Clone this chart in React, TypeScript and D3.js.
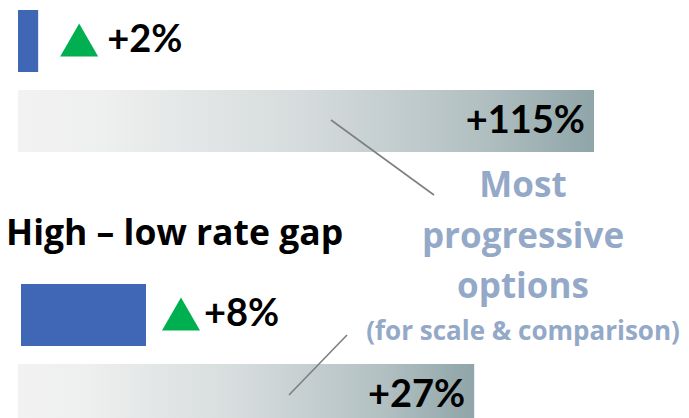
import { useEffect, useRef } from "react"
import * as d3 from "d3"

// two panels: top (unlabelled, cut off above) and "High – low rate gap"
const panelTitles = ["", "High – low rate gap"]
// bar lengths as share of the widest bar
const currentValues = [3.5, 21.7]
const currentChange = ["+2%", "+8%"]
const progressiveValues = [100, 79.2]
const progressiveChange = ["+115%", "+27%"]
const calloutLines = ["Most", "progressive", "options"]
const calloutNote = "(for scale & comparison)"

const W = 689
const H = 418
const NUM_FONT = "Lato, 'Open Sans', sans-serif"
const WORD_FONT = "'Open Sans', Lato, sans-serif"

function App() {
	const ref = useRef<SVGSVGElement>(null)

	useEffect(() => {
		const svg = d3.select(ref.current)
		svg.selectAll("*").remove()

		const defs = svg.append("defs")
		const grad = defs
			.append("linearGradient")
			.attr("id", "fade")
			.attr("x1", "0%")
			.attr("x2", "100%")
			.attr("y1", "0%")
			.attr("y2", "0%")
		const stops: [number, string][] = [
			[0, "#f2f2f2"],
			[0.15, "#eeefef"],
			[0.5, "#d5dbdc"],
			[0.8, "#b2c0c2"],
			[1, "#8fa5a8"],
		]
		stops.forEach(([o, c]) =>
			grad.append("stop").attr("offset", o).attr("stop-color", c)
		)

		const x = d3.scaleLinear().domain([0, 100]).range([18, 594])
		const panelY = d3.scaleLinear().domain([0, 1]).range([10, 284])
		const barH = 62
		const gap = 18

		panelTitles.forEach((title, i) => {
			const y0 = panelY(i)
			const g = svg.append("g")

			if (title) {
				g.append("text")
					.attr("x", 6)
					.attr("y", y0 - 39)
					.attr("font-family", WORD_FONT)
					.attr("font-weight", 700)
					.attr("font-size", 35.5)
					.attr("fill", "#000")
					.text(title)
			}

			// current bar
			const bx = i === 0 ? 18 : 21
			const bEnd = x(currentValues[i]) + (bx - 18)
			g.append("rect")
				.attr("x", bx)
				.attr("y", y0)
				.attr("width", bEnd - bx)
				.attr("height", barH)
				.attr("fill", "#4067b6")

			const cy = y0 + barH / 2
			const tx = bEnd + (i === 0 ? 22 : 16)
			const triW = 38
			const triH = 33
			g.append("path")
				.attr(
					"d",
					`M${tx},${cy + triH / 2 - 1} L${tx + triW / 2},${cy - triH / 2 - 1} L${tx + triW},${cy + triH / 2 - 1} Z`
				)
				.attr("fill", "#00b050")

			g.append("text")
				.attr("x", tx + triW + (i === 0 ? 9 : 4))
				.attr("y", cy + 11)
				.attr("font-family", NUM_FONT)
				.attr("font-weight", 700)
				.attr("font-size", 38)
				.attr("fill", "#000")
				.text(currentChange[i])

			// progressive bar
			const py = y0 + barH + gap
			const pEnd = x(progressiveValues[i])
			g.append("rect")
				.attr("x", x(0))
				.attr("y", py)
				.attr("width", pEnd - x(0))
				.attr("height", barH)
				.attr("fill", "url(#fade)")

			g.append("text")
				.attr("x", pEnd - 9)
				.attr("y", py + barH / 2 + 12)
				.attr("text-anchor", "end")
				.attr("font-family", NUM_FONT)
				.attr("font-weight", 700)
				.attr("font-size", 38)
				.attr("fill", "#000")
				.text(progressiveChange[i])
		})

		// callout
		const cx = 523
		calloutLines.forEach((t, i) => {
			svg.append("text")
				.attr("x", cx)
				.attr("y", 197 + i * 50.5)
				.attr("text-anchor", "middle")
				.attr("font-family", WORD_FONT)
				.attr("font-weight", 700)
				.attr("font-size", 35)
				.attr("fill", "#94a9c8")
				.text(t)
		})
		svg.append("text")
			.attr("x", cx)
			.attr("y", 340)
			.attr("text-anchor", "middle")
			.attr("font-family", WORD_FONT)
			.attr("font-weight", 700)
			.attr("font-size", 26)
			.attr("fill", "#94a9c8")
			.text(calloutNote)

		const leaders = [
			[331, 120, 434, 195],
			[347, 335, 289, 395],
		]
		svg.selectAll("line.leader")
			.data(leaders)
			.enter()
			.append("line")
			.attr("class", "leader")
			.attr("x1", (d) => d[0])
			.attr("y1", (d) => d[1])
			.attr("x2", (d) => d[2])
			.attr("y2", (d) => d[3])
			.attr("stroke", "#7f7f7f")
			.attr("stroke-width", 1.6)
	}, [])

	return (
		<svg
			ref={ref}
			width={W}
			height={H}
			style={{ position: "absolute", left: 0, top: 0, background: "#fff" }}
		></svg>
	)
}

export default App
